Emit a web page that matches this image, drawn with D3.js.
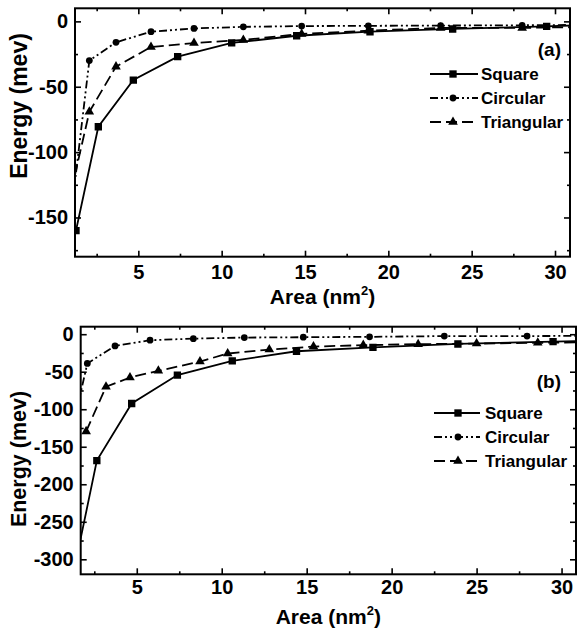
<!DOCTYPE html>
<html>
<head>
<meta charset="utf-8">
<script src="https://cdn.jsdelivr.net/npm/d3@7"></script>
<style>
  body { margin: 0; background: #fff; }
  svg { font-family: "Liberation Sans", Arial, sans-serif; font-weight: bold; }
  .frame { fill: none; stroke: #000; stroke-width: 2; }
  .axis path { display: none; }
  .axis line { stroke: #000; stroke-width: 1.6; }
  .axis text { font-size: 20px; font-weight: bold; fill: #000; font-family: "Liberation Sans", Arial, sans-serif; }
</style>
</head>
<body>
<script>
var width = 578, height = 633;

// panel (a)
var areaSqA   = [1.26, 2.6, 4.7, 7.36, 10.6, 14.5, 18.9, 23.86, 29.5, 35.6];
var energySqA = [-160, -80.6, -44.9, -27, -16.5, -11, -7.9, -5.8, -3.8, -1.0];
var areaCirA   = [0.97, 2.06, 3.66, 5.76, 8.34, 11.3, 14.8, 18.8, 23.14, 28.03, 33.4];
var energyCirA = [-147, -30, -16, -7.9, -5.4, -4.2, -3.6, -3.4, -3.2, -3.0, -2.5];
var areaTriA   = [0.97, 2.06, 3.66, 5.76, 8.34, 11.3, 14.8, 18.8, 23.14, 28.03, 33.4];
var energyTriA = [-130, -69.2, -34.6, -19.6, -16.6, -14.2, -9.6, -7.1, -5.0, -5.0, -4.0];

// panel (b)
var areaSqB   = [1.26, 2.65, 4.7, 7.39, 10.62, 14.4, 18.9, 23.9, 29.5, 35.6];
var energySqB = [-320, -168.5, -92.3, -54.5, -35.5, -22.7, -17.5, -13, -9.8, -7];
var areaCirB   = [0.97, 2.09, 3.72, 5.78, 8.33, 11.33, 14.8, 18.7, 23.1, 27.97, 33.4];
var energyCirB = [-150, -39, -15.6, -8, -5.9, -4.5, -4, -3.5, -2.5, -2.5, -2];
var areaTriB   = [2.02, 3.19, 4.6, 6.27, 8.72, 10.35, 12.8, 15.4, 18.33, 21.56, 25.0, 28.6, 32.5];
var energyTriB = [-129.5, -70, -57.7, -48.8, -36.4, -25.8, -20.5, -16.5, -14.6, -13.3, -12.5, -11.5, -10.5];

var seriesNames = ["Square", "Circular", "Triangular"];
var xMajor = [5, 10, 15, 20, 25, 30];
var xMinor = [2.5, 7.5, 12.5, 17.5, 22.5, 27.5];
var yMajorA = [-150, -100, -50, 0], yMinorA = [-175, -125, -75, -25];
var yMajorB = [-300, -250, -200, -150, -100, -50, 0], yMinorB = [-275, -225, -175, -125, -75, -25];

var dashes = [null, "8,3,2,3,2,3", "11,5"];
var symbols = [d3.symbolSquare, d3.symbolCircle, d3.symbolTriangle];
var symSizes = [54, 36, 40];

var svg = d3.select("body").append("svg")
    .attr("width", width)
    .attr("height", height);

function zip(xs, ys) { return xs.map(function(x, i) { return {x: x, y: ys[i]}; }); }

var panels = [
  { id: "a", left: 75, right: 570, top: 8.3, bottom: 256.7,
    xDom: [1.2, 30.9], yDom: [-180, 10], yMajor: yMajorA, yMinor: yMinorA,
    series: [zip(areaSqA, energySqA), zip(areaCirA, energyCirA), zip(areaTriA, energyTriA)],
    tag: "(a)", tagX: 561, tagY: 56,
    legX0: 430, legX1: 478, legM: 453, legT: 481, legY: [74, 98, 122],
    yTitleSize: 23, yTitleX: 27, yTitleY: 106, xTitleY: 304, pad: 8 },
  { id: "b", left: 80.7, right: 576, top: 326.7, bottom: 574.3,
    xDom: [1.7, 30.85], yDom: [-320, 10], yMajor: yMajorB, yMinor: yMinorB,
    series: [zip(areaSqB, energySqB), zip(areaCirB, energyCirB), zip(areaTriB, energyTriB)],
    tag: "(b)", tagX: 561, tagY: 388,
    legX0: 434, legX1: 480, legM: 458, legT: 485, legY: [413, 437, 461],
    yTitleSize: 21.5, yTitleX: 26, yTitleY: 459, xTitleY: 624, pad: 6 }
];

panels.forEach(function(p) {
  var x = d3.scaleLinear().domain(p.xDom).range([p.left, p.right]);
  var y = d3.scaleLinear().domain(p.yDom).range([p.bottom, p.top]);
  var g = svg.append("g");

  g.append("clipPath").attr("id", "clip" + p.id)
    .append("rect")
    .attr("x", p.left).attr("y", p.top)
    .attr("width", p.right - p.left).attr("height", p.bottom - p.top);

  // axes, ticks inward on all four sides
  g.append("g").attr("class", "axis")
    .attr("transform", "translate(0," + p.bottom + ")")
    .call(d3.axisBottom(x).tickValues(xMajor).tickSize(-6).tickPadding(p.pad));
  g.append("g").attr("class", "axis")
    .attr("transform", "translate(0," + p.bottom + ")")
    .call(d3.axisBottom(x).tickValues(xMinor).tickSize(-3).tickFormat(""));
  g.append("g").attr("class", "axis")
    .attr("transform", "translate(0," + p.top + ")")
    .call(d3.axisTop(x).tickValues(xMajor).tickSize(-6).tickFormat(""));
  g.append("g").attr("class", "axis")
    .attr("transform", "translate(0," + p.top + ")")
    .call(d3.axisTop(x).tickValues(xMinor).tickSize(-3).tickFormat(""));
  g.append("g").attr("class", "axis")
    .attr("transform", "translate(" + p.left + ",0)")
    .call(d3.axisLeft(y).tickValues(p.yMajor).tickSize(-6).tickPadding(7).tickFormat(d3.format("d")));
  g.append("g").attr("class", "axis")
    .attr("transform", "translate(" + p.left + ",0)")
    .call(d3.axisLeft(y).tickValues(p.yMinor).tickSize(-3).tickFormat(""));
  g.append("g").attr("class", "axis")
    .attr("transform", "translate(" + p.right + ",0)")
    .call(d3.axisRight(y).tickValues(p.yMajor).tickSize(-6).tickFormat(""));
  g.append("g").attr("class", "axis")
    .attr("transform", "translate(" + p.right + ",0)")
    .call(d3.axisRight(y).tickValues(p.yMinor).tickSize(-3).tickFormat(""));
  // d3 uses a unicode minus; the reference shows a plain hyphen
  g.selectAll(".axis text").text(function() { return this.textContent.replace("\u2212", "-"); });

  var line = d3.line().x(function(d) { return x(d.x); }).y(function(d) { return y(d.y); });
  var plot = g.append("g").attr("clip-path", "url(#clip" + p.id + ")");

  p.series.forEach(function(s, i) {
    plot.append("path")
      .datum(s)
      .attr("d", line)
      .style("fill", "none")
      .style("stroke", "#000")
      .style("stroke-width", 1.8)
      .style("stroke-dasharray", dashes[i]);
    plot.selectAll(".m" + i)
      .data(s)
      .enter()
      .append("path")
      .attr("transform", function(d) { return "translate(" + x(d.x) + "," + y(d.y) + ")"; })
      .attr("d", d3.symbol().type(symbols[i]).size(symSizes[i]))
      .style("fill", "#000");
  });

  g.append("rect").attr("class", "frame")
    .attr("x", p.left).attr("y", p.top)
    .attr("width", p.right - p.left).attr("height", p.bottom - p.top);

  // legend
  seriesNames.forEach(function(name, i) {
    var ly = p.legY[i];
    g.append("line")
      .attr("x1", p.legX0).attr("x2", p.legX1).attr("y1", ly).attr("y2", ly)
      .style("stroke", "#000").style("stroke-width", 1.8)
      .style("stroke-dasharray", dashes[i]);
    g.append("path")
      .attr("transform", "translate(" + p.legM + "," + ly + ")")
      .attr("d", d3.symbol().type(symbols[i]).size(symSizes[i]))
      .style("fill", "#000");
    g.append("text")
      .attr("x", p.legT).attr("y", ly + 6)
      .style("font-size", "17px")
      .text(name);
  });

  g.append("text")
    .attr("x", p.tagX).attr("y", p.tagY)
    .attr("text-anchor", "end")
    .style("font-size", "19px")
    .text(p.tag);

  g.append("text")
    .attr("transform", "translate(" + p.yTitleX + "," + p.yTitleY + ") rotate(-90)")
    .attr("text-anchor", "middle")
    .style("font-size", p.yTitleSize + "px")
    .text("Energy (mev)");

  var xt = g.append("text")
    .attr("x", (p.left + p.right) / 2)
    .attr("y", p.xTitleY)
    .attr("text-anchor", "middle")
    .style("font-size", "21px");
  xt.append("tspan").text("Area (nm");
  xt.append("tspan").attr("dy", -9).style("font-size", "13px").text("2");
  xt.append("tspan").attr("dy", 9).text(")");
});
</script>
</body>
</html>
